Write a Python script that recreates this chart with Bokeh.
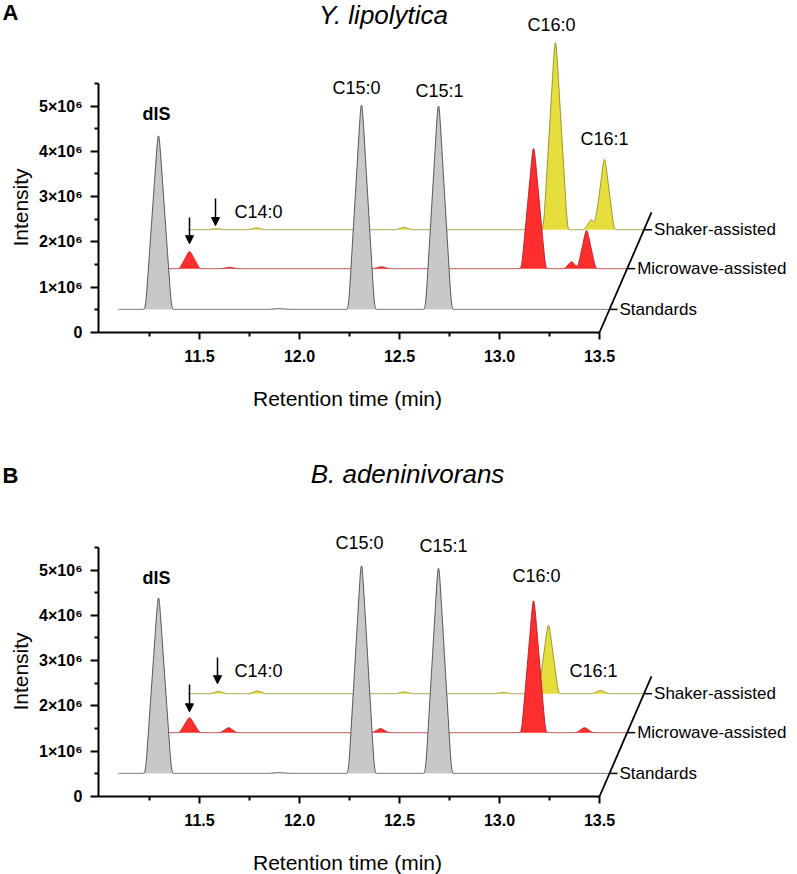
import numpy as np
from bokeh.plotting import figure
from bokeh.models import Range1d, FixedTicker, Label, Arrow, NormalHead
from bokeh.layouts import column
from bokeh.embed import file_html
from bokeh.resources import INLINE

# ---------------- data ----------------
trace_names = ["Standards", "Microwave-assisted", "Shaker-assisted"]
trace_offsets = [0.51e6, 1.41e6, 2.27e6]          # baseline of each trace (intensity)
trace_starts = [11.045, 11.18, 11.22]             # first retention time of each trace (min)
trace_end = 13.5
skew = 0.0981e-6                                  # min of depth shift per intensity unit

x_ticks = [11.5, 12.0, 12.5, 13.0, 13.5]
x_minor = [11.25, 11.75, 12.25, 12.75, 13.25]
y_ticks = [0, 1e6, 2e6, 3e6, 4e6, 5e6]
y_tick_labels = ["0", "1×10⁶", "2×10⁶", "3×10⁶", "4×10⁶", "5×10⁶"]
y_minor = [0.5e6, 1.5e6, 2.5e6, 3.5e6, 4.5e6, 5.5e6]

# Panel A  (Y. lipolytica): retention time, height above baseline, half-base width
a_std_rt = [11.245, 11.85, 12.26, 12.645]
a_std_h = [3.83e6, 0.02e6, 4.51e6, 4.49e6]
a_std_w = [0.065, 0.05, 0.065, 0.065]
a_mw_rt = [11.312, 11.512, 12.272, 13.032, 13.222, 13.297]
a_mw_h = [0.375e6, 0.03e6, 0.04e6, 2.65e6, 0.15e6, 0.84e6]
a_mw_w = [0.05, 0.04, 0.04, 0.06, 0.035, 0.045]
a_sh_rt = [11.362, 11.562, 12.30, 13.057, 13.237, 13.302]
a_sh_h = [0.02e6, 0.04e6, 0.05e6, 4.13e6, 0.22e6, 1.55e6]
a_sh_w = [0.04, 0.04, 0.04, 0.06, 0.035, 0.048]

# Panel B  (B. adeninivorans)
b_std_rt = [11.245, 11.85, 12.26, 12.645]
b_std_h = [3.87e6, 0.02e6, 4.58e6, 4.53e6]
b_std_w = [0.065, 0.05, 0.065, 0.065]
b_mw_rt = [11.312, 11.507, 12.267, 13.032, 13.287]
b_mw_h = [0.33e6, 0.11e6, 0.09e6, 2.91e6, 0.11e6]
b_mw_w = [0.05, 0.04, 0.04, 0.06, 0.04]
b_sh_rt = [11.372, 11.567, 12.302, 12.797, 13.022, 13.282]
b_sh_h = [0.05e6, 0.06e6, 0.04e6, 0.03e6, 1.51e6, 0.07e6]
b_sh_w = [0.04, 0.04, 0.04, 0.04, 0.05, 0.04]

# peak annotations (text, x, y, bold)
a_peak_labels = [("dIS", 11.285, 4.83e6, True), ("C15:0", 12.285, 5.39e6, False),
                 ("C15:1", 12.70, 5.34e6, False), ("C16:0", 13.26, 6.78e6, False),
                 ("C16:1", 13.525, 4.28e6, False), ("C14:0", 11.795, 2.65e6, False)]
b_peak_labels = [("dIS", 11.285, 4.82e6, True), ("C15:0", 12.30, 5.60e6, False),
                 ("C15:1", 12.72, 5.53e6, False), ("C16:0", 13.185, 4.87e6, False),
                 ("C16:1", 13.47, 2.78e6, False), ("C14:0", 11.795, 2.76e6, False)]
a_arrows = [(11.58, 2.96e6, 2.36e6), (11.45, 2.54e6, 1.96e6)]
b_arrows = [(11.59, 3.07e6, 2.49e6), (11.45, 2.47e6, 1.87e6)]

fill_colors = ["#C8C8C8", "#FF2E2E", "#E6DE3C"]
line_colors = ["#444444", "#B31B1B", "#8F8A22"]
FONT = "Liberation Sans"

X0 = 10.995            # left end of the retention-time axis
AXIS_PX = 98           # screen x of left axis
PXPERMIN = 200.0
PXPERUNIT = 45.3e-6


def chromatogram(t, rts, hs, ws, sigma=0.005):
    dt = t[1] - t[0]
    n = int(4 * sigma / dt)
    k = np.arange(-n, n + 1) * dt
    kern = np.exp(-0.5 * (k / sigma) ** 2)
    kern /= kern.sum()
    y = np.zeros_like(t)
    for rt, h, w in zip(rts, hs, ws):
        tri = np.clip(1 - np.abs(t - rt) / w, 0, None)
        sm = np.convolve(tri, kern, mode="same")
        y += h * sm / sm.max()
    return y


def sx(px):
    return X0 + (px - AXIS_PX) / PXPERMIN


def make_panel(letter, title, title_pos, letter_y, series, peak_labels, arrows, height, zero_px):
    def sy(py):
        return (zero_px - py) / PXPERUNIT

    p = figure(width=797, height=height,
               x_range=Range1d(sx(0), sx(797)),
               y_range=Range1d(sy(height), sy(0)),
               output_backend="svg", toolbar_location=None, title=None,
               min_border_left=0, min_border_right=0, min_border_top=0,
               min_border_bottom=0)
    p.xgrid.visible = False
    p.ygrid.visible = False
    p.outline_line_color = None
    p.background_fill_color = "white"
    p.border_fill_color = "white"

    for ax in (p.xaxis, p.yaxis):
        ax.axis_line_width = 2
        ax.major_tick_line_width = 2
        ax.minor_tick_line_width = 2
        ax.major_tick_in = 0
        ax.minor_tick_in = 0
        ax.major_label_text_font = FONT
        ax.major_label_text_font_style = "bold"
        ax.major_label_text_font_size = "16px"
        ax.major_label_text_color = "black"
        ax.axis_line_color = "black"
        ax.major_tick_line_color = "black"
        ax.minor_tick_line_color = "black"
    p.xaxis.fixed_location = 0
    p.xaxis.ticker = FixedTicker(ticks=x_ticks, minor_ticks=x_minor)
    p.xaxis.major_label_overrides = {v: f"{v:.1f}" for v in x_ticks}
    p.xaxis.bounds = (X0, trace_end)
    p.xaxis.major_tick_out = 7
    p.xaxis.minor_tick_out = 4
    p.xaxis.major_label_standoff = 10
    p.yaxis.fixed_location = X0
    p.yaxis.ticker = FixedTicker(ticks=y_ticks, minor_ticks=y_minor)
    p.yaxis.major_label_overrides = {v: s for v, s in zip(y_ticks, y_tick_labels)}
    p.yaxis.bounds = (0, 5.5e6)
    p.yaxis.major_tick_out = 8
    p.yaxis.minor_tick_out = 4
    p.yaxis.major_label_standoff = 8

    # traces drawn back to front
    for i in [2, 1, 0]:
        rts, hs, ws = series[i]
        off = trace_offsets[i]
        t = np.arange(trace_starts[i], trace_end + 1e-9, 0.001)
        y = chromatogram(t, rts, hs, ws)
        xs = t + skew * off
        p.varea(x=xs, y1=np.full_like(t, off), y2=y + off, fill_color=fill_colors[i])
        p.line(xs, y + off, line_color=line_colors[i], line_width=0.9)

    # depth axis
    top = 2.65e6
    p.line([trace_end, trace_end + skew * top], [0, top], line_color="black", line_width=1.8)
    for name, off in zip(trace_names, trace_offsets):
        xe = trace_end + skew * off
        p.line([xe, xe + 0.04], [off, off], line_color="black", line_width=1.5)
        p.add_layout(Label(x=xe + 0.05, y=off, text=name, text_font=FONT, text_color="black",
                           text_font_size="17px", text_baseline="middle", text_align="left"))

    for txt, x, y, bold in peak_labels:
        p.add_layout(Label(x=x, y=y, text=txt, text_font=FONT, text_font_size="18px",
                           text_color="black",
                           text_font_style="bold" if bold else "normal",
                           text_align="center", text_baseline="middle"))
    for x, y0, y1 in arrows:
        p.add_layout(Arrow(x_start=x, y_start=y0, x_end=x, y_end=y1, line_width=1.5,
                           end=NormalHead(size=8, fill_color="black", line_color="black")))

    # titles
    p.add_layout(Label(x=sx(title_pos[0]), y=sy(title_pos[1]), text=title, text_font=FONT,
                       text_font_size="26px", text_font_style="italic", text_align="center",
                       text_baseline="middle", text_color="black"))
    p.add_layout(Label(x=sx(2), y=sy(letter_y), text=letter, text_font=FONT,
                       text_font_size="22px", text_font_style="bold", text_align="left",
                       text_baseline="middle", text_color="black"))
    p.add_layout(Label(x=sx(20), y=sy(zero_px - 125), text="Intensity", text_font=FONT,
                       text_font_size="21px", angle=np.pi / 2, text_align="center",
                       text_baseline="middle", text_color="black"))
    p.add_layout(Label(x=sx(347), y=sy(zero_px + 66), text="Retention time (min)", text_font=FONT,
                       text_font_size="21px", text_align="center", text_baseline="middle",
                       text_color="black"))
    return p


pA = make_panel("A", "Y. lipolytica", (383, 14), 12,
                [(a_std_rt, a_std_h, a_std_w), (a_mw_rt, a_mw_h, a_mw_w), (a_sh_rt, a_sh_h, a_sh_w)],
                a_peak_labels, a_arrows, 452, 332)
pB = make_panel("B", "B. adeninivorans", (407, 21), 23,
                [(b_std_rt, b_std_h, b_std_w), (b_mw_rt, b_mw_h, b_mw_w), (b_sh_rt, b_sh_h, b_sh_w)],
                b_peak_labels, b_arrows, 422, 344)

layout = column(pA, pB, spacing=0)
open("out.html", "w").write(file_html(layout, INLINE))
